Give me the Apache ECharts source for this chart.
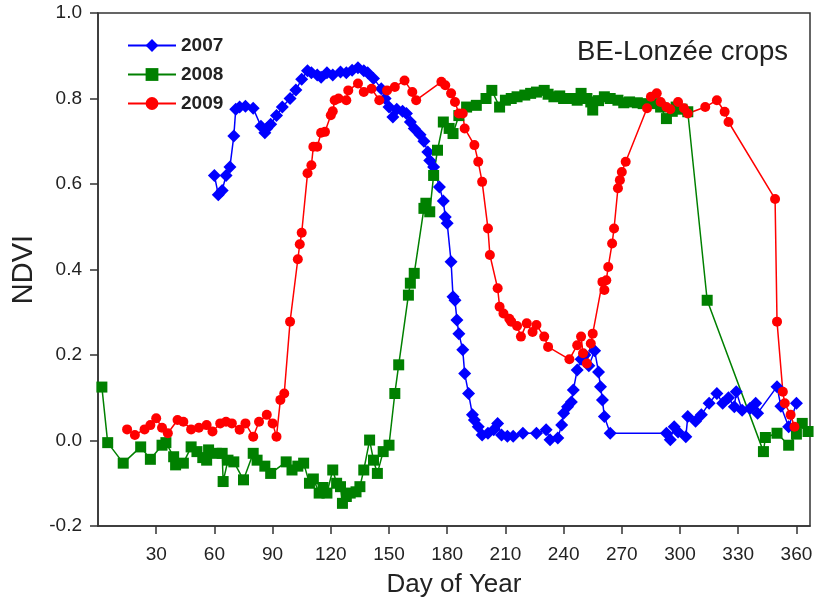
<!DOCTYPE html>
<html>
<head>
<meta charset="utf-8">
<script src="https://cdn.jsdelivr.net/npm/echarts@6/dist/echarts.min.js"></script>
<style>
  html, body { margin: 0; padding: 0; background: #fff; }
  #main { width: 822px; height: 602px; }
</style>
</head>
<body>
<div id="main"></div>
<script>
// day of year / NDVI
var days2007 = [60, 62, 64, 66, 68, 70, 71, 73, 76, 80, 84, 86, 87, 89, 92, 95, 99, 102, 105, 108,
  110, 113, 115, 118, 121, 125, 128, 131, 134, 137, 139, 142, 146, 148, 150, 152, 154, 157, 159, 161,
  163, 166, 168, 170, 171, 173, 176, 178, 179, 180, 182, 183, 184, 185, 186, 188, 189, 191, 193, 194,
  196, 198, 201, 204, 206, 208, 211, 214, 219, 226, 231, 233, 237, 239, 240, 242, 244, 245, 247, 249,
  251, 253, 256, 258, 259, 260, 261, 264, 293, 295, 297, 299, 303, 304, 308, 311, 315, 319, 322, 325,
  328, 329, 332, 336, 339, 340, 350, 352, 356, 360];
var ndvi2007 = [0.62, 0.575, 0.585, 0.62, 0.64, 0.712, 0.775, 0.78, 0.782, 0.777, 0.735, 0.72, 0.73, 0.74, 0.76, 0.78, 0.8, 0.82, 0.845, 0.865,
  0.86, 0.855, 0.85, 0.86, 0.855, 0.862, 0.86, 0.866, 0.872, 0.865, 0.86, 0.847, 0.823, 0.8, 0.78, 0.757, 0.775, 0.77, 0.765, 0.745,
  0.73, 0.715, 0.7, 0.675, 0.655, 0.64, 0.593, 0.56, 0.523, 0.508, 0.418, 0.336, 0.328, 0.282, 0.25, 0.212, 0.157, 0.11, 0.06, 0.048,
  0.032, 0.013, 0.017, 0.025, 0.04, 0.013, 0.01, 0.01, 0.017, 0.017, 0.025, 0.002, 0.006, 0.036, 0.064, 0.079, 0.09, 0.118, 0.165, 0.19,
  0.2, 0.175, 0.21, 0.16, 0.126, 0.095, 0.056, 0.017, 0.017, 0.002, 0.032, 0.02, 0.009, 0.056, 0.045, 0.06, 0.087, 0.11, 0.087, 0.1,
  0.079, 0.114, 0.071, 0.075, 0.087, 0.064, 0.126, 0.08, 0.032, 0.087];

var days2008 = [2, 5, 13, 22, 27, 33, 35, 39, 40, 44, 48, 51, 54, 56, 57, 61, 64, 64.5, 67, 70,
  75, 80, 82, 86, 89, 97, 100, 103, 106, 109, 111, 114, 116, 118, 121, 123, 125, 126, 128, 130,
  133, 135, 137, 140, 142, 144, 147, 150, 153, 155, 160, 161, 163, 168, 169, 171, 173, 175, 178, 181,
  183, 186, 190, 195, 200, 203, 207, 210, 213, 216, 220, 223, 226, 230, 232, 235, 238, 240, 244, 247,
  249, 252, 254, 255, 258, 261, 264, 268, 271, 274, 278, 281, 286, 290, 293, 296, 298, 301, 304, 314,
  343, 344, 350, 356, 360, 363, 366];
var ndvi2008 = [0.125, -0.005, -0.053, -0.015, -0.044, -0.011, -0.005, -0.038, -0.057, -0.053, -0.015, -0.026, -0.04, -0.046, -0.022, -0.03, -0.03, -0.096, -0.046, -0.05,
  -0.092, -0.03, -0.046, -0.06, -0.077, -0.05, -0.069, -0.06, -0.053, -0.1, -0.09, -0.123, -0.11, -0.123, -0.069, -0.1, -0.108, -0.147, -0.131, -0.123,
  -0.12, -0.108, -0.069, 0.001, -0.046, -0.077, -0.026, -0.011, 0.11, 0.177, 0.34, 0.368, 0.391, 0.543, 0.555, 0.535, 0.62, 0.679, 0.745, 0.73,
  0.718, 0.76, 0.78, 0.784, 0.8, 0.819, 0.78, 0.796, 0.8, 0.804, 0.808, 0.812, 0.815, 0.819, 0.81, 0.804, 0.806, 0.8, 0.8, 0.796,
  0.812, 0.8, 0.792, 0.773, 0.795, 0.804, 0.8, 0.796, 0.79, 0.792, 0.79, 0.788, 0.788, 0.78, 0.753, 0.77, 0.78, 0.775, 0.769, 0.328,
  -0.026, 0.007, 0.017, -0.011, 0.015, 0.04, 0.021];

var days2009 = [15, 19, 24, 27, 30, 33, 36, 41, 44, 48, 52, 56, 59, 63, 66, 69, 73, 76, 80, 83,
  87, 90, 92, 94, 96, 99, 103, 104, 105, 108, 110, 111, 113, 115, 117, 120, 121, 122, 124, 128,
  129, 134, 137, 141, 145, 149, 153, 158, 162, 164, 177, 179, 182, 184, 186, 188, 189, 194, 196, 198,
  201, 202, 206, 207, 209, 212, 213, 216, 218, 221, 224, 226, 230, 232, 243, 247, 249, 250, 252, 254,
  255, 260, 261, 262, 263, 265, 266, 268, 269, 270, 272, 283, 285, 288, 290, 293, 295, 299, 302, 304,
  313, 319, 323, 325, 349, 350, 353, 354, 357, 359];
var ndvi2009 = [0.026, 0.013, 0.026, 0.036, 0.052, 0.03, 0.017, 0.048, 0.044, 0.026, 0.03, 0.036, 0.021, 0.04, 0.044, 0.04, 0.025, 0.04, 0.009, 0.044,
  0.06, 0.04, 0.009, 0.095, 0.11, 0.278, 0.424, 0.459, 0.486, 0.625, 0.644, 0.687, 0.687, 0.72, 0.722, 0.761, 0.77, 0.796, 0.8, 0.796,
  0.819, 0.835, 0.815, 0.823, 0.796, 0.819, 0.827, 0.842, 0.815, 0.796, 0.839, 0.831, 0.812, 0.792, 0.765, 0.765, 0.73, 0.691, 0.652, 0.605,
  0.496, 0.434, 0.356, 0.313, 0.297, 0.285, 0.278, 0.268, 0.243, 0.274, 0.254, 0.27, 0.243, 0.219, 0.19, 0.223, 0.243, 0.204, 0.18, 0.227,
  0.25, 0.371, 0.352, 0.375, 0.406, 0.461, 0.496, 0.59, 0.609, 0.628, 0.652, 0.777, 0.804, 0.812, 0.792, 0.78, 0.775, 0.792, 0.777, 0.765,
  0.78, 0.796, 0.769, 0.745, 0.565, 0.278, 0.114, 0.087, 0.06, 0.032];

var dayTicks = [30, 60, 90, 120, 150, 180, 210, 240, 270, 300, 330, 360];

function pairs(days, vals) {
  var res = [];
  for (var i = 0; i < days.length; i++) {
    res.push([days[i], vals[i]]);
  }
  return res;
}

var chart = echarts.init(document.getElementById('main'));
var font = 'Liberation Sans, Arial';
var axisText = { color: '#222', fontFamily: font, fontSize: 19 };

var option = {
  backgroundColor: '#fff',
  animation: false,
  title: {
    text: 'BE-Lonzée crops',
    right: 29,
    top: 33,
    textStyle: { fontFamily: font, fontSize: 27.5, fontWeight: 'normal', color: '#222' }
  },
  legend: {
    orient: 'vertical',
    left: 122,
    top: 31,
    itemWidth: 48,
    itemHeight: 16,
    itemGap: 10,
    textStyle: { fontFamily: font, fontSize: 19, fontWeight: 'bold', color: '#222' },
    data: ['2007', '2008', '2009']
  },
  grid: {
    left: 98,
    right: 12,
    top: 13,
    bottom: 76,
    outerBoundsMode: 'none',
    show: true,
    borderColor: '#333',
    borderWidth: 1.5
  },
  xAxis: {
    type: 'value',
    min: 0,
    max: 367,
    name: 'Day of Year',
    nameLocation: 'middle',
    nameGap: 46,
    nameTextStyle: { fontFamily: font, fontSize: 26, color: '#222' },
    splitLine: { show: false },
    axisLine: { onZero: false, lineStyle: { color: '#333', width: 1.5 } },
    axisTick: { show: true, length: 8, inside: false, customValues: dayTicks, lineStyle: { color: '#333', width: 1.5 } },
    axisLabel: Object.assign({ margin: 19, customValues: dayTicks }, axisText)
  },
  yAxis: {
    type: 'value',
    min: -0.2,
    max: 1.0,
    interval: 0.2,
    name: 'NDVI',
    nameLocation: 'middle',
    nameGap: 58,
    nameRotate: 90,
    nameTextStyle: { fontFamily: font, fontSize: 29, color: '#222' },
    splitLine: { show: false },
    axisLine: { show: true, onZero: false, lineStyle: { color: '#333', width: 1.5 } },
    axisTick: { show: true, length: 8, lineStyle: { color: '#333', width: 1.5 } },
    axisLabel: Object.assign({
      margin: 16,
      formatter: function (v) { return v.toFixed(1); }
    }, axisText)
  },
  series: [
    {
      name: '2007',
      type: 'line',
      symbol: 'diamond',
      symbolSize: 13,
      color: '#0000ff',
      lineStyle: { width: 1.5 },
      data: pairs(days2007, ndvi2007)
    },
    {
      name: '2008',
      type: 'line',
      symbol: 'rect',
      symbolSize: 11,
      color: '#008000',
      lineStyle: { width: 1.5 },
      data: pairs(days2008, ndvi2008)
    },
    {
      name: '2009',
      type: 'line',
      symbol: 'circle',
      symbolSize: 10,
      color: '#ff0000',
      lineStyle: { width: 1.5 },
      data: pairs(days2009, ndvi2009)
    }
  ]
};

chart.setOption(option);
</script>
</body>
</html>
